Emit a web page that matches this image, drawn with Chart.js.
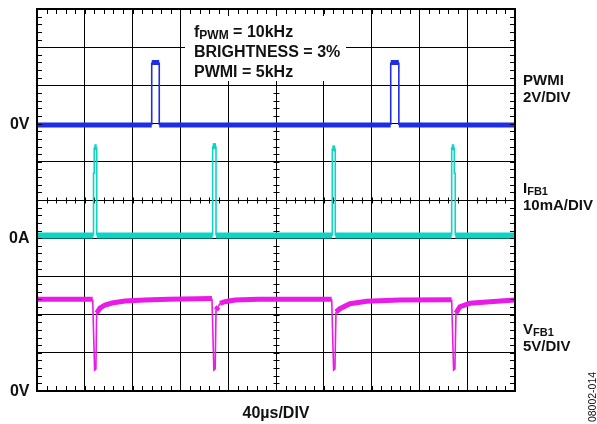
<!DOCTYPE html>
<html lang="en">
<head>
  <meta charset="UTF-8" />
  <title>PWMI / IFB1 / VFB1 scope capture</title>
  <script src="https://cdn.jsdelivr.net/npm/chart.js"></script>
  <style>
    body {
      margin: 0;
      background: #fff;
    }

    canvas {
      display: block;
    }
  </style>
</head>
<body>
  <canvas id="scope" width="597" height="424"></canvas>

  <script>
    // PWMI channel, 2V/DIV, time in us (40us/DIV)
    const pwmiTime  = [0, 96.0, 96.0, 102.3, 102.3, 296.0, 296.0, 302.8, 302.8, 400];
    const pwmiVolts = [-0.07, -0.07, 3.2, 3.2, -0.07, -0.07, 3.2, 3.2, -0.07, -0.07];

    // IFB1 channel, 10mA/DIV
    const ifbTime = [0,
      47.3, 47.3, 47.9, 47.9, 50.0, 50.0,
      147.0, 147.0, 149.8, 149.8,
      247.1, 247.1, 249.6, 249.6,
      347.0, 347.0, 349.2, 349.2, 350.0, 350.0,
      400];
    const ifbMilliamps = [0.7,
      0.7, 17, 17, 23.8, 23.8, 0.7,
      0.7, 24.1, 24.1, 0.7,
      0.7, 23.5, 23.5, 0.7,
      0.7, 23.8, 23.8, 17, 17, 0.7,
      0.7];

    // VFB1 channel, 5V/DIV
    const vfbTime = [0,
      46.6, 48.2, 49.3, 49.9, 52.7, 56.9, 62.8, 73.6, 90.4, 110,
      146.4, 148.0, 149.1, 149.8, 151.7, 153.1, 157.3, 165.7, 185,
      246.6, 248.2, 249.3, 250.2, 253.5, 261.9, 275.9, 303.8,
      347.0, 348.6, 349.7, 350.6, 353.9, 362.3, 379.1, 400];
    const vfbVolts = [12.0,
      12.0, 2.75, 2.9, 10.2, 10.86, 11.26, 11.52, 11.78, 11.91, 12.0,
      12.1, 2.75, 2.9, 10.6, 11.03, 11.48, 11.69, 11.91, 12.0,
      12.0, 2.75, 2.9, 10.34, 10.77, 11.43, 11.74, 11.9,
      11.95, 2.75, 2.9, 10.2, 11.03, 11.48, 11.69, 11.91];

    // labels around the screen
    const levelLabels = ["0V", "0A", "0V"];
    const levelDivs = [7, 4, 0];
    const channelNames = [["PWMI", ""], ["I", "FB1"], ["V", "FB1"]];
    const channelScales = ["2V/DIV", "10mA/DIV", "5V/DIV"];
    const settingsText = [["f", "PWM", " = 10kHz"], ["BRIGHTNESS = 3%", "", ""], ["PWMI = 5kHz", "", ""]];
    const timeScaleLabel = "40\u00B5s/DIV";
    const figureCode = "08002-014";

    const FONT = '"Liberation Sans", Arial, sans-serif';

    function toPoints(xs, ys) {
      return xs.map((t, i) => ({ x: t, y: ys[i] }));
    }

    // noisy flat parts are drawn fat, fast edges thin
    function traceWidth(thick) {
      return (ctx) => {
        const dx = Math.abs(ctx.p1.x - ctx.p0.x);
        const dy = Math.abs(ctx.p1.y - ctx.p0.y);
        return (dx > 2 && dy < 2 * dx) ? thick : 1.6;
      };
    }

    function drawSub(ctx, x, y, main, sub, rest, size, subSize) {
      ctx.font = `bold ${size}px ${FONT}`;
      ctx.fillText(main, x, y);
      x += ctx.measureText(main).width;
      if (sub) {
        ctx.font = `bold ${subSize}px ${FONT}`;
        ctx.fillText(sub, x, y + 2);
        x += ctx.measureText(sub).width;
      }
      if (rest) {
        ctx.font = `bold ${size}px ${FONT}`;
        ctx.fillText(rest, x, y);
      }
    }

    const scopeDecor = {
      id: 'scopeDecor',
      beforeDatasetsDraw(chart) {
        const { ctx, scales: { x, y } } = chart;
        const cx = Math.round(x.getPixelForValue(200)) + 0.5;
        const cy = Math.round(y.getPixelForValue(5)) + 0.5;

        ctx.save();
        ctx.strokeStyle = '#000';
        ctx.lineWidth = 1;
        ctx.beginPath();
        for (let i = 0; i <= 50; i++) {
          const px = Math.round(x.getPixelForValue(i * 8)) + 0.5;
          ctx.moveTo(px, cy - 3);
          ctx.lineTo(px, cy + 3);
          const py = Math.round(y.getPixelForValue(i / 5)) + 0.5;
          ctx.moveTo(cx - 3, py);
          ctx.lineTo(cx + 3, py);
        }
        ctx.stroke();

        // white panel behind the settings
        ctx.fillStyle = '#fff';
        ctx.fillRect(185, 16, 161, 65);
        ctx.fillStyle = '#111';
        ctx.textBaseline = 'alphabetic';
        ctx.textAlign = 'left';
        settingsText.forEach((row, i) => {
          drawSub(ctx, 194, 36.5 + i * 20.2, row[0], row[1], row[2], 16, 12);
        });
        ctx.restore();
      },
      afterDatasetsDraw(chart) {
        const { ctx, chartArea: a, scales: { x, y } } = chart;
        ctx.save();
        ctx.strokeStyle = '#000';
        ctx.lineWidth = 1;
        ctx.beginPath();
        for (let i = 0; i <= 50; i++) {
          const px = Math.round(x.getPixelForValue(i * 8)) + 0.5;
          ctx.moveTo(px, a.top);
          ctx.lineTo(px, a.top + 5);
          ctx.moveTo(px, a.bottom - 5);
          ctx.lineTo(px, a.bottom);
          const py = Math.round(y.getPixelForValue(i / 5)) + 0.5;
          ctx.moveTo(a.left, py);
          ctx.lineTo(a.left + 5, py);
          ctx.moveTo(a.right - 5, py);
          ctx.lineTo(a.right, py);
        }
        ctx.stroke();
        ctx.lineWidth = 2;
        ctx.strokeRect(a.left, a.top, a.right - a.left, a.bottom - a.top);

        ctx.fillStyle = '#111';
        ctx.font = `bold 16px ${FONT}`;
        ctx.textAlign = 'right';
        levelLabels.forEach((txt, i) => {
          ctx.fillText(txt, 29.5, y.getPixelForValue(levelDivs[i]) + 5);
        });

        ctx.textAlign = 'left';
        const nameBase = [85, 193, 334];
        nameBase.forEach((b, i) => {
          drawSub(ctx, 523, b, channelNames[i][0], channelNames[i][1], '', 15, 11);
          ctx.font = `bold 15px ${FONT}`;
          ctx.fillText(channelScales[i], 523, b + 17);
        });

        ctx.textAlign = 'center';
        ctx.font = `bold 16px ${FONT}`;
        ctx.fillText(timeScaleLabel, x.getPixelForValue(200), 418);

        ctx.translate(596, 397);
        ctx.rotate(-Math.PI / 2);
        ctx.font = `10.5px ${FONT}`;
        ctx.fillText(figureCode, 0, 0);
        ctx.restore();
      }
    };

    const hiddenAxis = (min, max) => ({ type: 'linear', display: false, min: min, max: max });

    new Chart(document.getElementById('scope').getContext('2d'), {
      type: 'line',
      data: {
        datasets: [
          {
            label: 'PWMI',
            data: toPoints(pwmiTime, pwmiVolts),
            yAxisID: 'yP',
            borderColor: '#1e2ee6',
            segment: { borderWidth: traceWidth(5) }
          },
          {
            label: 'IFB1',
            data: toPoints(ifbTime, ifbMilliamps),
            yAxisID: 'yI',
            borderColor: '#0fd3c5',
            segment: { borderWidth: traceWidth(6) }
          },
          {
            label: 'VFB1',
            data: toPoints(vfbTime, vfbVolts),
            yAxisID: 'yV',
            borderColor: '#e81ce6',
            segment: { borderWidth: traceWidth(5) }
          }
        ]
      },
      options: {
        responsive: false,
        animation: false,
        devicePixelRatio: 1,
        layout: { padding: { left: 37, top: 9, right: 82, bottom: 33 } },
        elements: {
          point: { radius: 0 },
          line: { tension: 0, borderCapStyle: 'butt' }
        },
        plugins: {
          legend: { display: false },
          tooltip: { enabled: false }
        },
        scales: {
          x: {
            type: 'linear',
            min: 0,
            max: 400,
            ticks: { display: false, stepSize: 40 },
            grid: { color: '#000', lineWidth: 1, drawTicks: false },
            border: { display: false }
          },
          y: {
            type: 'linear',
            min: 0,
            max: 10,
            ticks: { display: false, stepSize: 1 },
            grid: { color: '#000', lineWidth: 1, drawTicks: false },
            border: { display: false }
          },
          yP: hiddenAxis(-14, 6),
          yI: hiddenAxis(-40, 60),
          yV: hiddenAxis(0, 50)
        }
      },
      plugins: [scopeDecor]
    });
  </script>
</body>
</html>
